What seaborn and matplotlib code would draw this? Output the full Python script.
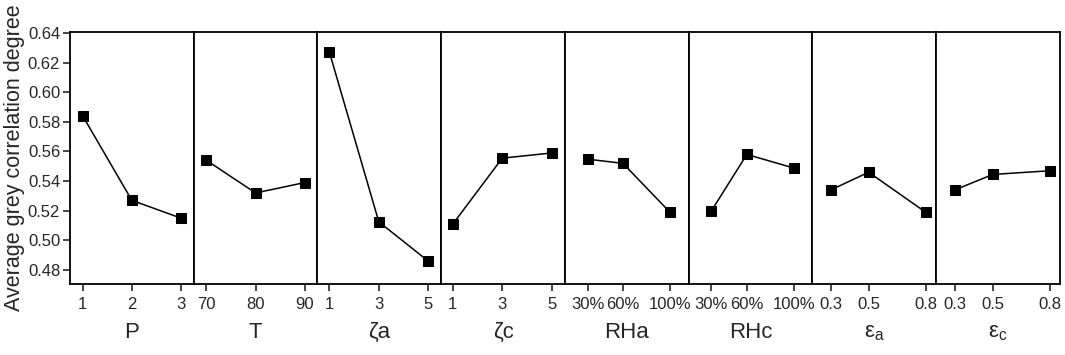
"""Main effect plot of average grey correlation degree for eight factors."""

import matplotlib

matplotlib.use("Agg")
import matplotlib.pyplot as plt
import pandas as pd
import seaborn as sns

factors = ["P", "T", "ζa", "ζc", "RHa", "RHc", r"$\mathregular{ε_a}$", r"$\mathregular{ε_c}$"]
levels = [
    [1, 2, 3],
    [70, 80, 90],
    [1, 3, 5],
    [1, 3, 5],
    [30, 60, 100],
    [30, 60, 100],
    [0.3, 0.5, 0.8],
    [0.3, 0.5, 0.8],
]
level_labels = [
    ["1", "2", "3"],
    ["70", "80", "90"],
    ["1", "3", "5"],
    ["1", "3", "5"],
    ["30%", "60%", "100%"],
    ["30%", "60%", "100%"],
    ["0.3", "0.5", "0.8"],
    ["0.3", "0.5", "0.8"],
]
grey_degree = [
    [0.584, 0.527, 0.515],
    [0.554, 0.532, 0.539],
    [0.627, 0.5125, 0.486],
    [0.511, 0.5555, 0.559],
    [0.5548, 0.552, 0.519],
    [0.5197, 0.558, 0.5487],
    [0.534, 0.546, 0.519],
    [0.534, 0.5445, 0.547],
]
y_ticks = [0.48, 0.50, 0.52, 0.54, 0.56, 0.58, 0.60, 0.62, 0.64]

# x-range of every panel
x_limits = [
    (0.74, 3.26),
    (67.4, 92.6),
    (0.515, 5.53),
    (0.53, 5.54),
    (10.7, 116.0),
    (11.1, 115.2),
    (0.204, 0.856),
    (0.204, 0.851),
]

sns.set_theme(style="white")
plt.rcParams["font.family"] = ["Liberation Sans", "DejaVu Sans"]
plt.rcParams["mathtext.fontset"] = "custom"
plt.rcParams["mathtext.rm"] = "Liberation Sans"

fig, axes = plt.subplots(1, len(factors), figsize=(10.65, 3.55), dpi=100, sharey=True)
fig.subplots_adjust(left=0.0657, right=0.9953, top=0.909, bottom=0.2, wspace=0)

for i, ax in enumerate(axes):
    df = pd.DataFrame({"level": levels[i], "value": grey_degree[i]})
    sns.lineplot(
        data=df, x="level", y="value", ax=ax, color="black", linewidth=1.1,
        marker="s", markersize=7, markeredgecolor="black", markerfacecolor="black",
    )
    ax.set_xlim(*x_limits[i])
    ax.set_ylim(0.4705, 0.6405)
    ax.set_xticks(levels[i])
    ax.set_xticklabels(level_labels[i], fontsize=12)
    ax.set_xlabel(factors[i], fontsize=16, labelpad=7)
    ax.tick_params(axis="x", direction="out", length=5, width=1.2, bottom=True, pad=4.5)
    for sp in ax.spines.values():
        sp.set_color("black")
        sp.set_linewidth(1.3)
    if i == 0:
        ax.set_yticks(y_ticks)
        ax.set_yticklabels([f"{t:.2f}" for t in y_ticks], fontsize=12)
        ax.tick_params(axis="y", direction="out", length=5, width=1.2, left=True, pad=2)
        ax.set_ylabel("Average grey correlation degree", fontsize=15.5, labelpad=2)
    else:
        ax.tick_params(axis="y", left=False)
        ax.set_ylabel("")

fig.savefig("out.png", dpi=100)
